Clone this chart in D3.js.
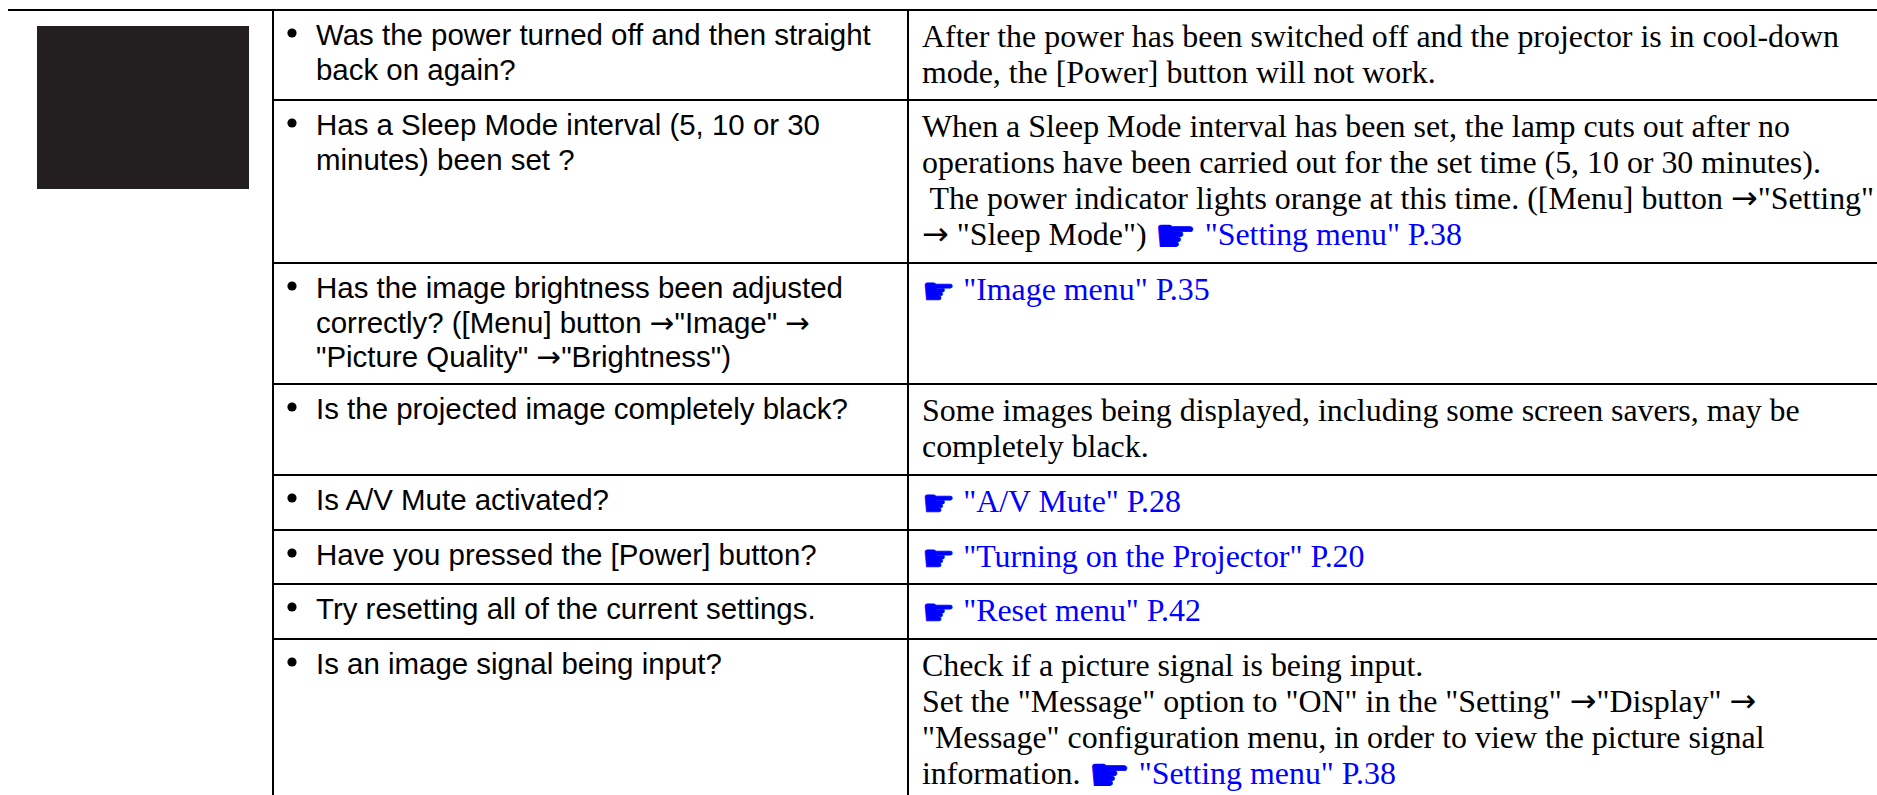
<!DOCTYPE html>
<html>
<meta charset="utf-8">
<style>
html, body { margin: 0; padding: 0; background: #fff; overflow: hidden; }
svg { display: block; }
text { white-space: pre; }
.q { font: 29.45px "Liberation Sans", sans-serif; fill: #000; }
.a { font: 31.9px "Liberation Serif", serif; fill: #000; }
.arrow { font-family: "DejaVu Sans", sans-serif; }
.link { fill: #0000ff; }
.hand { font-family: "DejaVu Sans", sans-serif; font-size: 37px; fill: #0000ff; stroke: #0000ff; stroke-width: 0.8px; }
.hand.big { font-size: 47px; }
</style>
<body>
<script src="https://d3js.org/d3.v7.min.js"></script>
<script>
var width = 1877,
    height = 795;

var rows = ["power", "sleep", "brightness", "black", "mute", "button", "reset", "signal"];

var questions = [
  ["Was the power turned off and then straight", "back on again?"],
  ["Has a Sleep Mode interval (5, 10 or 30", "minutes) been set ?"],
  ["Has the image brightness been adjusted", "correctly? ([Menu] button \u2192\"Image\" \u2192", "\"Picture Quality\" \u2192\"Brightness\")"],
  ["Is the projected image completely black?"],
  ["Is A/V Mute activated?"],
  ["Have you pressed the [Power] button?"],
  ["Try resetting all of the current settings."],
  ["Is an image signal being input?"]
];

// anything after the hand sign is a blue link
var answers = [
  ["After the power has been switched off and the projector is in cool-down", "mode, the [Power] button will not work."],
  ["When a Sleep Mode interval has been set, the lamp cuts out after no", "operations have been carried out for the set time (5, 10 or 30 minutes).", " The power indicator lights orange at this time. ([Menu] button \u2192\"Setting\"", "\u2192 \"Sleep Mode\") \u261B \"Setting menu\" P.38"],
  ["\u261B \"Image menu\" P.35"],
  ["Some images being displayed, including some screen savers, may be", "completely black."],
  ["\u261B \"A/V Mute\" P.28"],
  ["\u261B \"Turning on the Projector\" P.20"],
  ["\u261B \"Reset menu\" P.42"],
  ["Check if a picture signal is being input.", "Set the \"Message\" option to \"ON\" in the \"Setting\" \u2192\"Display\" \u2192", "\"Message\" configuration menu, in order to view the picture signal", "information. \u261B \"Setting menu\" P.38"]
];

var rowY = d3.scaleOrdinal().domain(rows).range([10, 100, 263, 384, 475, 530, 584, 639]);
var qLine = d3.scaleLinear().domain([0, 1]).range([34.7, 69.5]);
var aLine = d3.scaleLinear().domain([0, 1]).range([36.6, 72.6]);

var svg = d3.select("body").append("svg")
    .attr("width", width)
    .attr("height", height);

svg.append("rect")
    .attr("x", 37)
    .attr("y", 26)
    .attr("width", 212)
    .attr("height", 163)
    .style("fill", "#231f20");

// row rules
svg.selectAll(".rule")
  .data(rows)
  .enter().append("line")
    .attr("class", "rule")
    .attr("x1", function(d, i) { return i == 0 ? 8 : 273; })
    .attr("x2", width)
    .attr("y1", function(d) { return rowY(d); })
    .attr("y2", function(d) { return rowY(d); })
    .style("stroke", "#000")
    .style("stroke-width", 2);

// column rules
svg.selectAll(".col")
  .data([273, 908])
  .enter().append("line")
    .attr("class", "col")
    .attr("x1", function(d) { return d; })
    .attr("x2", function(d) { return d; })
    .attr("y1", rowY(rows[0]))
    .attr("y2", height)
    .style("stroke", "#000")
    .style("stroke-width", 2);

var row = svg.selectAll(".row")
  .data(rows)
  .enter().append("g")
    .attr("class", "row")
    .attr("transform", function(d) { return "translate(0," + rowY(d) + ")"; });

row.append("circle")
    .attr("cx", 292)
    .attr("cy", 23)
    .attr("r", 4.6)
    .style("fill", "#000");

// split a line on arrows and hands so they can get their own font
function fill(t, d) {
  var isLink = false;
  var standalone = d.charAt(0) == "\u261B";
  var drop = standalone ? 4 : 7;   // the hand sits lower than the DejaVu glyph
  d.split(/(\u2192|\u261B)/).forEach(function(p) {
    if (!p) return;
    if (p == "\u261B") {
      isLink = true;
      t.append("tspan")
          .attr("class", standalone ? "hand" : "hand big")
          .attr("dy", drop)
          .text(p);
    } else if (p == "\u2192") {
      t.append("tspan").attr("class", "arrow").text(p);
    } else if (isLink) {
      t.append("tspan").attr("class", "link").attr("dy", -drop).text(p);
    } else {
      t.append("tspan").text(p);
    }
  });
}

row.selectAll(".q")
  .data(function(d, i) { return questions[i]; })
  .enter().append("text")
    .attr("class", "q")
    .attr("x", 316)
    .attr("y", function(d, i) { return qLine(i); })
    .each(function(d) { fill(d3.select(this), d); });

row.selectAll(".a")
  .data(function(d, i) { return answers[i]; })
  .enter().append("text")
    .attr("class", "a")
    .attr("x", 922)
    .attr("y", function(d, i) { return aLine(i); })
    .each(function(d) { fill(d3.select(this), d); });
</script>
</body>
</html>
